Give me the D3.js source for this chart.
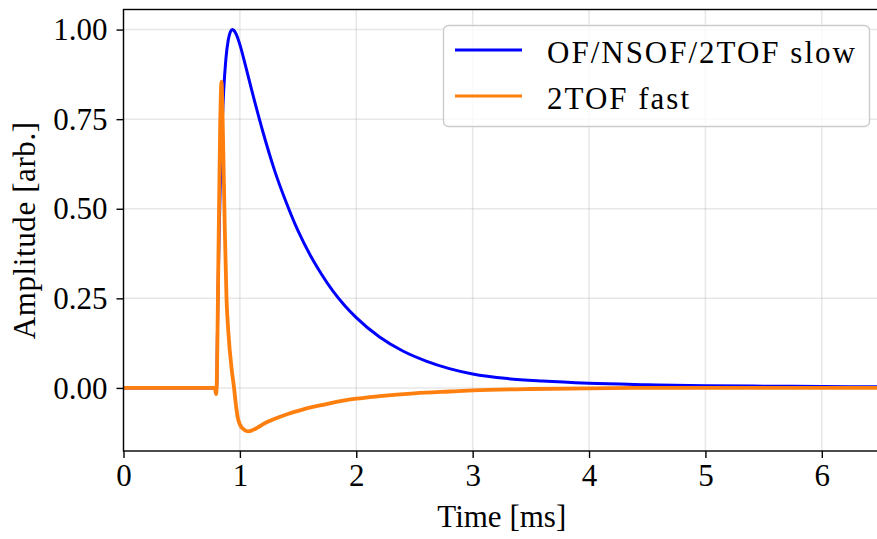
<!DOCTYPE html>
<html>
<head>
<meta charset="utf-8">
<script src="https://cdn.jsdelivr.net/npm/d3@7"></script>
<style>
  html, body { margin: 0; padding: 0; background: #fff; }
  svg { display: block; }
  text { font-family: "Liberation Serif", "Times New Roman", serif; fill: #000; }
</style>
</head>
<body>
<svg id="chart" width="877" height="539"></svg>
<script>
// ---- data ----
const slowTime = [0, 0.79, 0.80, 0.81, 0.82, 0.83, 0.84, 0.86, 0.88, 0.90, 0.92, 0.935, 0.95, 0.97, 1.00, 1.05, 1.10, 1.20, 1.30, 1.40, 1.50, 1.60, 1.70, 1.80, 1.90, 2.00, 2.20, 2.40, 2.60, 2.80, 3.00, 3.30, 3.60, 4.00, 4.50, 5.00, 5.50, 6.00, 6.50];
const slowAmp  = [0, 0, 0, 0.224, 0.404, 0.548, 0.662, 0.824, 0.919, 0.971, 0.995, 1.000, 0.997, 0.986, 0.958, 0.897, 0.833, 0.712, 0.605, 0.516, 0.438, 0.373, 0.318, 0.270, 0.230, 0.196, 0.142, 0.103, 0.075, 0.054, 0.039, 0.026, 0.019, 0.013, 0.009, 0.006, 0.005, 0.004, 0.003];

const fastTime = [0, 0.50, 0.785, 0.795, 0.80, 0.815, 0.83, 0.842, 0.855, 0.87, 0.885, 0.90, 0.93, 0.95, 0.965, 0.98, 1.00, 1.03, 1.07, 1.10, 1.15, 1.20, 1.30, 1.40, 1.50, 1.60, 1.70, 1.80, 1.90, 2.00, 2.20, 2.50, 2.80, 3.00, 3.50, 4.00, 4.50, 5.00, 5.50, 6.00, 6.50];
const fastAmp  = [0, 0, 0, -0.017, 0.0, 0.35, 0.72, 0.855, 0.70, 0.45, 0.25, 0.16, 0.05, 0.0, -0.045, -0.080, -0.102, -0.115, -0.121, -0.119, -0.111, -0.101, -0.086, -0.074, -0.064, -0.055, -0.048, -0.041, -0.035, -0.030, -0.023, -0.015, -0.010, -0.007, -0.003, -0.001, 0, 0, 0, 0, 0];

const xTicks = [0, 1, 2, 3, 4, 5, 6];
const yTicks = [0.00, 0.25, 0.50, 0.75, 1.00];
const seriesNames = ["OF/NSOF/2TOF slow", "2TOF fast"];
const seriesColors = ["#0000ff", "#ff7f0e"];

// ---- layout ----
const svg = d3.select("#chart");
const mLeft = 123.5, mTop = 9.5, mRight = 880, mBottom = 451;
const x = d3.scaleLinear().domain([0, 6.5]).range([mLeft, mRight]);
const y = d3.scaleLinear().domain([-0.176, 1.056]).range([mBottom, mTop]);
const FS = 31;

// grid
const grid = svg.append("g");
grid.selectAll("line.gx").data(xTicks).join("line")
  .attr("x1", d => x(d)).attr("x2", d => x(d))
  .attr("y1", mTop).attr("y2", mBottom)
  .attr("stroke", "#b0b0b0").attr("stroke-opacity", 0.3).attr("stroke-width", 1.5);
grid.selectAll("line.gy").data(yTicks).join("line")
  .attr("y1", d => y(d)).attr("y2", d => y(d))
  .attr("x1", mLeft).attr("x2", mRight)
  .attr("stroke", "#b0b0b0").attr("stroke-opacity", 0.3).attr("stroke-width", 1.5);

// clip
svg.append("clipPath").attr("id", "clip").append("rect")
  .attr("x", mLeft).attr("y", mTop).attr("width", mRight - mLeft).attr("height", mBottom - mTop);

const line = d3.line().x(d => x(d[0])).y(d => y(d[1])).curve(d3.curveMonotoneX);
const slow = slowTime.map((t, i) => [t, slowAmp[i]]);
const fast = fastTime.map((t, i) => [t, fastAmp[i]]);

const plot = svg.append("g").attr("clip-path", "url(#clip)");
plot.append("path").datum(slow).attr("d", line)
  .attr("fill", "none").attr("stroke", seriesColors[0]).attr("stroke-width", 3)
  .attr("stroke-linejoin", "round");
plot.append("path").datum(fast).attr("d", line)
  .attr("fill", "none").attr("stroke", seriesColors[1]).attr("stroke-width", 3.8)
  .attr("stroke-linejoin", "round");

// axes
const xAxis = d3.axisBottom(x).tickValues(xTicks).tickFormat(d3.format("d")).tickSizeOuter(0).tickSize(7).tickPadding(6);
const yAxis = d3.axisLeft(y).tickValues(yTicks).tickFormat(d3.format(".2f")).tickSizeOuter(0).tickSize(7).tickPadding(9);
const gx = svg.append("g").attr("transform", `translate(0,${mBottom})`).call(xAxis);
const gy = svg.append("g").attr("transform", `translate(${mLeft},0)`).call(yAxis);
[gx, gy].forEach(g => {
  g.select(".domain").remove();
  g.selectAll(".tick line").attr("stroke", "#000").attr("stroke-width", 1.4);
  g.selectAll(".tick text").attr("font-size", FS).attr("font-family", "Liberation Serif, serif");
});
gx.selectAll(".tick text").attr("dy", "0.71em");
gy.selectAll(".tick text").attr("dy", "0.33em");

// spines
svg.append("rect").attr("x", mLeft).attr("y", mTop).attr("width", mRight - mLeft).attr("height", mBottom - mTop)
  .attr("fill", "none").attr("stroke", "#000").attr("stroke-width", 1.4);

// axis labels
svg.append("text").attr("x", (mLeft + mRight) / 2).attr("y", 527)
  .attr("text-anchor", "middle").attr("font-size", FS).text("Time [ms]");
svg.append("text").attr("transform", `translate(35,${(mTop + mBottom) / 2}) rotate(-90)`)
  .attr("text-anchor", "middle").attr("font-size", FS).attr("letter-spacing", 0.6).text("Amplitude [arb.]");

// legend
const lg = svg.append("g");
lg.append("rect").attr("x", 443.5).attr("y", 25.5).attr("width", 426).attr("height", 101)
  .attr("rx", 5).attr("fill", "#fff").attr("fill-opacity", 0.8)
  .attr("stroke", "#cccccc").attr("stroke-width", 1.4);
const legY = [50, 96];
seriesNames.forEach((name, i) => {
  lg.append("line").attr("x1", 455).attr("x2", 522).attr("y1", legY[i]).attr("y2", legY[i])
    .attr("stroke", seriesColors[i]).attr("stroke-width", 3.2);
  lg.append("text").attr("x", 547).attr("y", legY[i] + 13).attr("font-size", FS)
    .attr("letter-spacing", 2).text(name);
});
</script>
</body>
</html>
